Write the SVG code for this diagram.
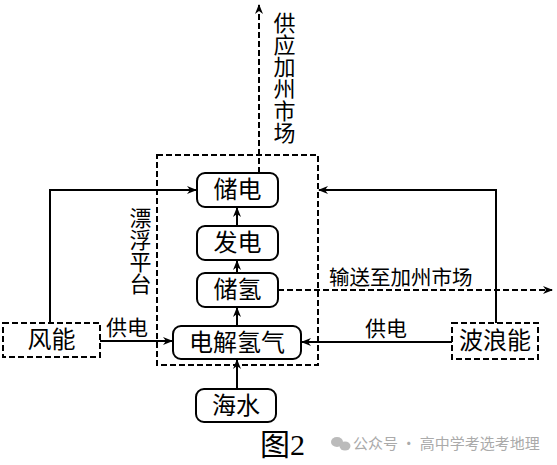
<svg xmlns="http://www.w3.org/2000/svg" width="557" height="465" viewBox="0 0 557 465">
<style>
.box{fill:#fff;stroke:#000;stroke-width:2}
.dbox{fill:#fff;stroke:#000;stroke-width:2;stroke-dasharray:6 3}
.t{font-family:"Liberation Sans","Noto Sans CJK SC",sans-serif;font-size:24px;fill:#000;text-anchor:middle}
.lbl{font-family:"Liberation Sans","Noto Sans CJK SC",sans-serif;font-size:21px;fill:#000}
.ln{fill:none;stroke:#000;stroke-width:2}
.dl{fill:none;stroke:#000;stroke-width:2;stroke-dasharray:6 3}
</style>
<defs>
<marker id="ah" markerWidth="10" markerHeight="10" refX="9" refY="5" orient="auto" markerUnits="userSpaceOnUse">
<path d="M0,1 L10,5 L0,9 L3,5 Z" fill="#000"/>
</marker>
</defs>
<rect width="557" height="465" fill="#fff"/>
<g id="platform">
<rect class="dbox" x="157" y="155" width="161" height="210" style="fill:none"/>
<text class="lbl" x="138" y="207" style="writing-mode:vertical-rl;font-size:22px">漂浮平台</text>
</g>
<g id="connectors">
<path class="dl" d="M259,173 V5" marker-end="url(#ah)"/>
<path class="ln" d="M50,323 V190 H196" marker-end="url(#ah)"/>
<path class="ln" d="M100,341 H172" marker-end="url(#ah)"/>
<path class="ln" d="M496,323 V190 H319" marker-end="url(#ah)"/>
<path class="ln" d="M452,342 H302" marker-end="url(#ah)"/>
<path class="dl" d="M278,290 H552" marker-end="url(#ah)"/>
<path class="ln" d="M237,226 V208" marker-end="url(#ah)"/>
<path class="ln" d="M237,273 V261" marker-end="url(#ah)"/>
<path class="ln" d="M237,326 V308" marker-end="url(#ah)"/>
<path class="ln" d="M237,389 V360" marker-end="url(#ah)"/>
<text class="lbl" x="282" y="12" style="writing-mode:vertical-rl;font-size:22px">供应加州市场</text>
<text class="lbl" x="106" y="335">供电</text>
<text class="lbl" x="365" y="336">供电</text>
<text class="lbl" x="329" y="285" style="font-size:20.5px">输送至加州市场</text>
</g>
<g id="chudian"><rect class="box" x="197" y="173" width="81" height="34" rx="8"/><text class="t" x="237.5" y="198">储电</text></g>
<g id="fadian"><rect class="box" x="197" y="226" width="81" height="34" rx="8"/><text class="t" x="237.5" y="251">发电</text></g>
<g id="chuqing"><rect class="box" x="197" y="273" width="81" height="34" rx="8"/><text class="t" x="237.5" y="298">储氢</text></g>
<g id="dianjie"><rect class="box" x="173" y="326" width="128" height="33" rx="8"/><text class="t" x="237" y="351">电解氢气</text></g>
<g id="haishui"><rect class="box" x="196" y="389" width="80" height="33" rx="8"/><text class="t" x="236" y="414">海水</text></g>
<g id="fengneng"><rect class="dbox" x="3" y="323" width="97" height="34"/><text class="t" x="51.5" y="348">风能</text></g>
<g id="bolangneng"><rect class="dbox" x="452" y="323" width="86" height="36"/><text class="t" x="495" y="349">波浪能</text></g>
<g id="caption">
<text x="260" y="455" style="font-family:'Liberation Serif','Noto Sans CJK SC',serif;font-size:30px;fill:#000">图2</text>
<g fill="#bbb"><ellipse cx="337" cy="442" rx="6" ry="5"/><ellipse cx="345" cy="446" rx="5.5" ry="4.5"/></g>
<text x="353" y="449" style="font-family:'Noto Sans CJK SC',sans-serif;font-size:15px;fill:#aaa">公众号 · 高中学考选考地理</text>
</g>
</svg>
